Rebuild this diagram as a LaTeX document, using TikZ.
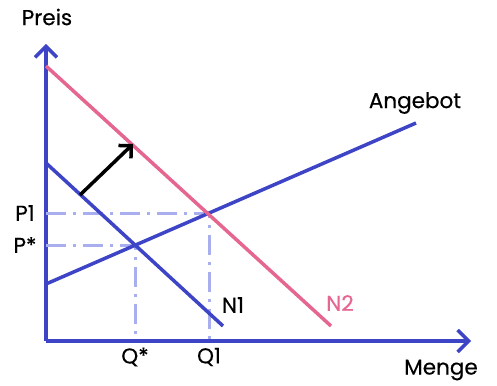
\documentclass[tikz,border=0pt]{standalone}
\usepackage{fontspec}
\setmainfont{Poppins}[FakeBold=0.4]
\usetikzlibrary{arrows.meta}
\definecolor{MKBlue}{HTML}{3D45C6}
\definecolor{MKPink}{HTML}{E5678F}
\definecolor{MKGuide}{HTML}{A8AEEE}
\tikzset{
  axis/.style={MKBlue,line width=3.5pt,-{Straight Barb[length=11pt,width=22pt,line width=3.5pt]}},
  curve/.style={line width=3.5pt},
  guide/.style={MKGuide,line width=3pt,dash pattern=on 20pt off 7pt on 3pt off 7pt},
  lbl/.style={font=\fontsize{21.5}{24}\selectfont,inner sep=0pt}
}
\begin{document}
\begin{tikzpicture}[x=1pt,y=-1pt]
\path[use as bounding box] (0,0) rectangle (497,385);
% Achsen
\coordinate (o) at (46,341);
\coordinate (ytop) at (46,44);
\coordinate (xend) at (471,341);
\draw[axis] (o) -- (ytop);
\draw[axis] (o) -- (xend);
\node[lbl] (preis) at (47,17) {Preis};
\node[lbl] (menge) at (441,370) {Menge};
% Hilfslinien
\coordinate (eq0) at (135,245);
\coordinate (eq1) at (209,213);
\coordinate (pstar) at (46,245);
\coordinate (pone) at (46,213);
\coordinate (qstar) at (135,341);
\coordinate (qone) at (209,341);
\draw[guide] (pstar) -- (eq0) -- (qstar);
\draw[guide] (pone) -- (eq1) -- (qone);
\node[lbl] (lp1) at (25,213) {P1};
\node[lbl] (lpstar) at (25,245) {P*};
\node[lbl] (lqstar) at (135,357) {Q*};
\node[lbl] (lq1) at (209,357) {Q1};
% Kurven
\coordinate (s0) at (46,284);
\coordinate (s1) at (416,123);
\coordinate (na) at (46,163);
\coordinate (nb) at (223,326);
\coordinate (ma) at (46,66);
\coordinate (mb) at (331,326);
\draw[curve,MKBlue] (s0) -- (s1);
\draw[curve,MKBlue] (na) -- (nb);
\draw[curve,MKPink] (ma) -- (mb);
\node[lbl] (angebot) at (415,103) {Angebot};
\node[lbl] (n1) at (233,305) {N1};
\node[lbl,MKPink] (n2) at (340,303) {N2};
% Verschiebung
\coordinate (sa) at (80,195);
\coordinate (sb) at (133,144);
\draw[curve,black,-{Straight Barb[length=9pt,width=18pt,line width=3.5pt]}] (sa) -- (sb);
\end{tikzpicture}
\end{document}
